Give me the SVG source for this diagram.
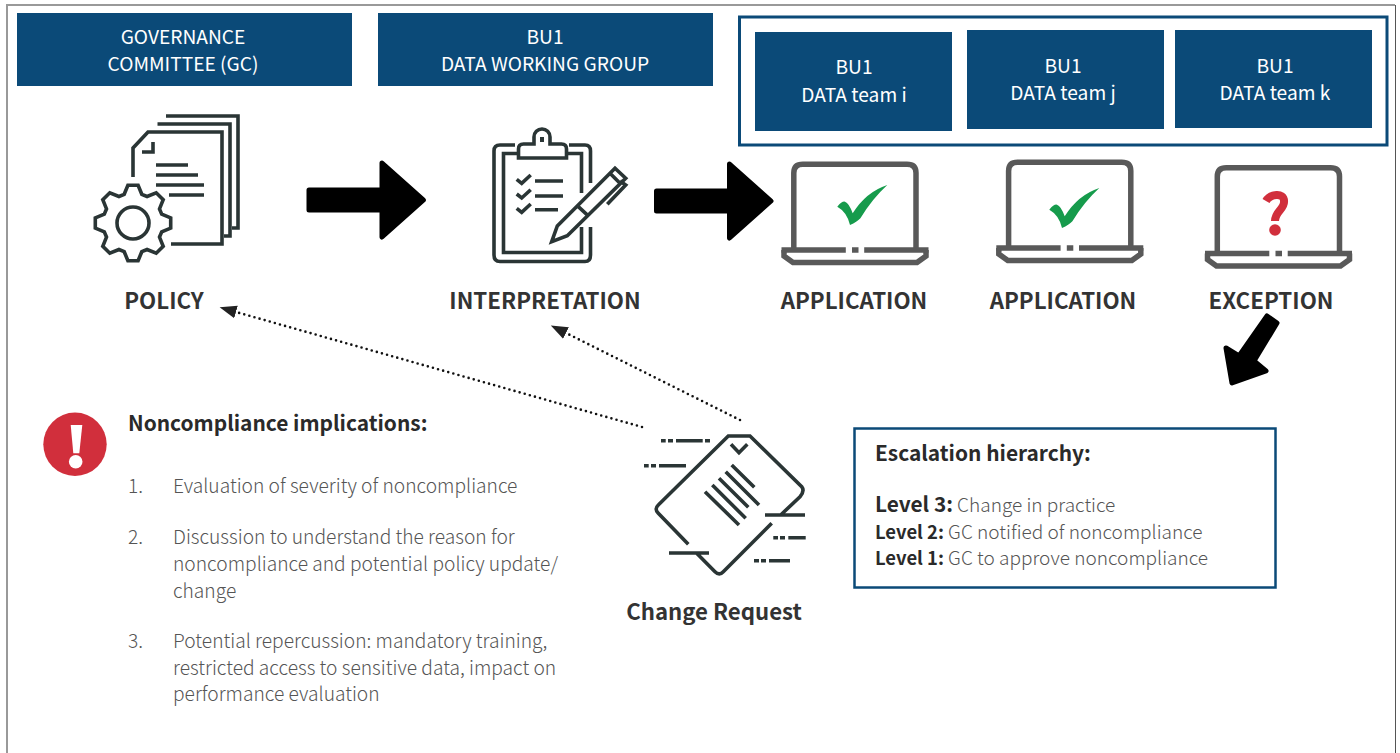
<svg xmlns="http://www.w3.org/2000/svg" xmlns:xlink="http://www.w3.org/1999/xlink" width="1400" height="753" viewBox="0 0 1400 753">
<style>
text{font-family:"Noto Sans CJK SC","Noto Sans",sans-serif}
.hd{fill:#0b4a78}
.ht{fill:#fff;font-size:19.2px;text-anchor:middle}
.lb{fill:#333;font-size:22.3px;font-weight:700;text-anchor:middle}
.ti{fill:#2a2a2a;font-size:20.9px;font-weight:700}
.bd{fill:#555;font-size:19.2px;font-weight:300}
.es{fill:#555;font-size:19.05px;font-weight:300}
.bb{fill:#2a2a2a;font-weight:700;font-size:18.4px}
.ic{fill:none;stroke:#2a3535;stroke-width:3.6}
.lp{fill:none;stroke:#595959;stroke-width:5.5}
.ar{fill:#000;stroke:#000;stroke-width:5;stroke-linejoin:round}
.dot{fill:none;stroke:#111;stroke-width:2.6;stroke-dasharray:0 5.3;stroke-linecap:round}
</style>
<defs>
<marker id="ah" markerUnits="userSpaceOnUse" markerWidth="18" markerHeight="14" refX="0" refY="7" orient="auto"><path d="M0,0.500L17,7L0,13.500Z" fill="#222"/></marker>
<g id="laptop">
<path class="lp" d="M793.8,250V173q0-8.700 9-8.700H907q9,0 9,8.700V250"/>
<path class="lp" d="M781.500,250H845.800M852,250H858.500M864.200,250H928.500"/>
<path class="lp" d="M784,250V256L793,262.500H917L926,256V250" stroke-width="5"/>
</g>
<path id="chk" d="M837.300,206.700Q842,201 845,201.700Q849,203 852.700,213.300Q866,192 887.300,185Q872,199 860.400,218.300Q857,222 850,225Q847,212 837.300,206.700Z" fill="#169b4c"/>
</defs>
<path d="M7,753V5H1395" fill="none" stroke="#999" stroke-width="2"/>
<path d="M1395.500,5V753" fill="none" stroke="#555" stroke-width="1"/>

<g id="connectors">
<path class="dot" d="M642,427L236,312" marker-end="url(#ah)"/>
<path class="dot" d="M740,420L566,333" marker-end="url(#ah)"/>
<path class="ar" d="M309,190H382V163L423.500,200L382,237V210H309Z"/>
<path class="ar" d="M656.500,191H729.500V164L771,201L729.500,238V211H656.500Z"/>
<path class="ar" d="M1267,316L1277,323L1254,361L1266,371L1232,383L1226,348L1239,356Z"/>
</g>

<g id="node-gc">
<rect class="hd" x="17" y="13" width="335" height="73"/>
<text class="ht" x="183" y="44">GOVERNANCE</text>
<text class="ht" x="183" y="71">COMMITTEE (GC)</text>
</g>
<g id="node-wg">
<rect class="hd" x="378" y="13" width="335" height="73"/>
<text class="ht" x="545" y="44">BU1</text>
<text class="ht" x="545" y="71">DATA WORKING GROUP</text>
</g>
<g id="node-teams">
<rect x="739.500" y="17" width="647.500" height="128" fill="none" stroke="#0b4a78" stroke-width="3"/>
<g id="team-i"><rect class="hd" x="755" y="32" width="197" height="99"/>
<text class="ht" x="854" y="74">BU1</text><text class="ht" x="854" y="102">DATA team i</text></g>
<g id="team-j"><rect class="hd" x="967" y="30" width="197" height="99"/>
<text class="ht" x="1063" y="73">BU1</text><text class="ht" x="1063" y="100">DATA team j</text></g>
<g id="team-k"><rect class="hd" x="1175" y="30" width="197" height="98"/>
<text class="ht" x="1275" y="73">BU1</text><text class="ht" x="1275" y="100">DATA team k</text></g>
</g>

<g id="node-policy">
<path class="ic" d="M166,116H238V228H232M157.500,124H230V236H224M133,177V148L148,132H222V244H171M142,152H153V142"/>
<path class="ic" d="M156,165H188M156,175H198M156,185H204M169,195H204"/>
<g transform="translate(133,223)">
<path class="ic" d="M-8.800,-28.700L-5.100,-37.700L5.100,-37.700L8.800,-28.700L14.070,-26.500L23.200,-30.200L30.200,-23.200L26.500,-14.070L28.700,-8.800L37.700,-5.100V5.100L28.700,8.800L26.500,14.070L30.200,23.200L23.200,30.200L14.070,26.500L8.800,28.700L5.100,37.700H-5.100L-8.800,28.700L-14.070,26.500L-23.200,30.200L-30.200,23.200L-26.500,14.070L-28.700,8.800L-37.700,5.100V-5.100L-28.700,-8.800L-26.500,-14.070L-30.200,-23.200L-23.200,-30.200L-14.070,-26.500Z"/>
<circle class="ic" r="16"/>
</g>
<text class="lb" x="164" y="309">POLICY</text>
</g>

<g id="node-interpretation">
<path class="ic" d="M515,145H500q-6,0-6,6V255q0,6.500 6,6.500H585q5.500,0 5.500-6.500V227M569,145H585q5.500,0 5.500,6V183"/>
<path class="ic" d="M518,153.500H503.500V252.500H581.500V227M567,153.500H581.500V193"/>
<path class="ic" d="M518.500,158V149q0-5 5-5H534V137a8,8 0 0 1 16,0V144H561.500q5,0 5,5V158Z"/>
<rect x="540" y="137" width="4" height="5" fill="#2a3535"/>
<path class="ic" d="M516.700,179.300L521.700,183.300L530.700,175M516.700,194L521.700,198L530.700,189.700M516.700,208.300L521.700,212.300L530.700,204M535,181H563M535,196H563M535,209.700H558"/>
<path class="ic" d="M551.700,241.700L557.300,226L615,168.300L625.700,178.300L567.300,235.700ZM578.300,206.700L586.700,214.300M610,173.300L620,183.300M620,181L625.700,185L607.300,204.300"/>
<text class="lb" x="545" y="309">INTERPRETATION</text>
</g>

<g id="node-app1">
<use href="#laptop"/><use href="#chk"/>
<text class="lb" x="854" y="309">APPLICATION</text>
</g>
<g id="node-app2">
<use href="#laptop" x="214.800" y="-2"/><use href="#chk" x="212" y="3"/>
<text class="lb" x="1063" y="309">APPLICATION</text>
</g>
<g id="node-exception">
<use href="#laptop" x="423.500" y="3.500"/>
<path d="M1266,201C1270,194 1284,192 1284,201C1285,209 1275,211 1275,221" fill="none" stroke="#d12f3c" stroke-width="8"/>
<circle cx="1275" cy="230" r="5.800" fill="#d12f3c"/>
<text class="lb" x="1271" y="309">EXCEPTION</text>
</g>

<g id="node-change">
<path class="ic" d="M688.300,544.300L658.300,513.300Q654,509 658.300,505L728.300,436H750L801.700,486.700Q805,491 800,496.700L780.700,515M771.700,523.300L723.300,571.700Q719.300,576 715,571.700L696.700,553.300M765,515H805M669,553H709M731,444.300L739,452.700L747.300,444.300M731.700,465L754.300,487.300M725.700,471.700L759,505M719,478.300L748.300,507.300M712.300,485L745.700,518.300M705,491.700L739,525"/>
<path class="ic" d="M661,440.700H665.700M668,440.700H673M676,440.700H702.700M705,440.700H710M644,465.700H648.700M651,465.700H656M659,465.700H686M773.300,537.700H778M780,537.700H785M788.300,537.700H805.700M754,560.700H759M761,560.700H766M769,560.700H790"/>
<text class="lb" x="714" y="620" style="font-size:22.2px">Change Request</text>
</g>

<g id="node-noncompliance">
<circle cx="75" cy="444.300" r="31.700" fill="#d12f3c"/>
<path d="M70.700,425H82.300L79.300,453.300H73.300Z" fill="#fff"/>
<circle cx="75.700" cy="461.700" r="6.800" fill="#fff"/>
<text class="ti" x="128" y="431">Noncompliance implications:</text>
<text class="bd" x="128" y="493">1.</text><text class="bd" x="173" y="493">Evaluation of severity of noncompliance</text>
<text class="bd" x="128" y="544">2.</text><text class="bd" x="173" y="544">Discussion to understand the reason for</text>
<text class="bd" x="173" y="571">noncompliance and potential policy update/</text>
<text class="bd" x="173" y="598">change</text>
<text class="bd" x="128" y="648">3.</text><text class="bd" x="173" y="648">Potential repercussion: mandatory training,</text>
<text class="bd" x="173" y="675">restricted access to sensitive data, impact on</text>
<text class="bd" x="173" y="701">performance evaluation</text>
</g>

<g id="node-escalation">
<rect x="854.500" y="428.500" width="421" height="159" fill="#fff" stroke="#0b4a78" stroke-width="2.500"/>
<text class="ti" x="875" y="461">Escalation hierarchy:</text>
<text class="es" x="875" y="512"><tspan class="bb" style="font-size:20.8px">Level 3:</tspan> Change in practice</text>
<text class="es" x="875" y="539"><tspan class="bb">Level 2:</tspan> GC notified of noncompliance</text>
<text class="es" x="875" y="565"><tspan class="bb">Level 1:</tspan> GC to approve noncompliance</text>
</g>
</svg>
